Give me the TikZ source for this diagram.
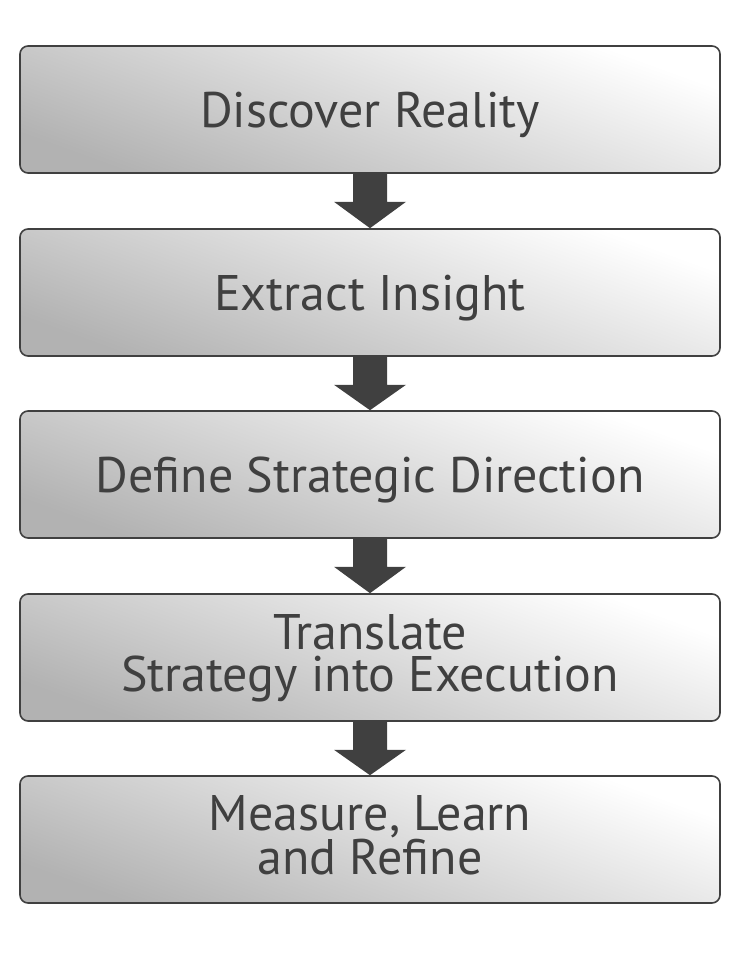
\documentclass[tikz,border=0pt]{standalone}
\usepackage{fontspec}
\setmainfont{PT Sans}
\begin{document}
\begin{tikzpicture}[x=1pt,y=-1pt,
  stepbox/.style={draw=black!75, line width=1.6pt, rounded corners=8pt,
    minimum width=700pt, minimum height=127pt, inner sep=0pt, text depth=0pt,
    top color=white, bottom color=black!30, shading angle=-20,
    text=black!75, font=\fontsize{50}{42}\selectfont, align=center},
  twoline/.style={text depth=9pt},
  flowarrow/.style={fill=black!75, draw=none}]
\useasboundingbox (0,0) rectangle (739,954);
\node[stepbox] (b1) at (370,109.5) {Discover Reality};
\node[stepbox] (b2) at (370,292.5) {Extract Insight};
\node[stepbox] (b3) at (370,474.5) {Define Strategic Direction};
\node[stepbox, twoline] (b4) at (370,657.5) {Translate\\Strategy into Execution};
\node[stepbox, twoline] (b5) at (370,839.5) {Measure, Learn\\and Refine};
\foreach \a/\b in {b1/b2,b2/b3,b3/b4,b4/b5}{
  \fill[flowarrow] ([xshift=-17pt]\a.south) -- ([xshift=-17pt,yshift=-28pt]\a.south)
    -- ([xshift=-36pt,yshift=-28pt]\a.south) -- (\b.north)
    -- ([xshift=36pt,yshift=-28pt]\a.south) -- ([xshift=17pt,yshift=-28pt]\a.south)
    -- ([xshift=17pt]\a.south) -- cycle;
}
\end{tikzpicture}
\end{document}
